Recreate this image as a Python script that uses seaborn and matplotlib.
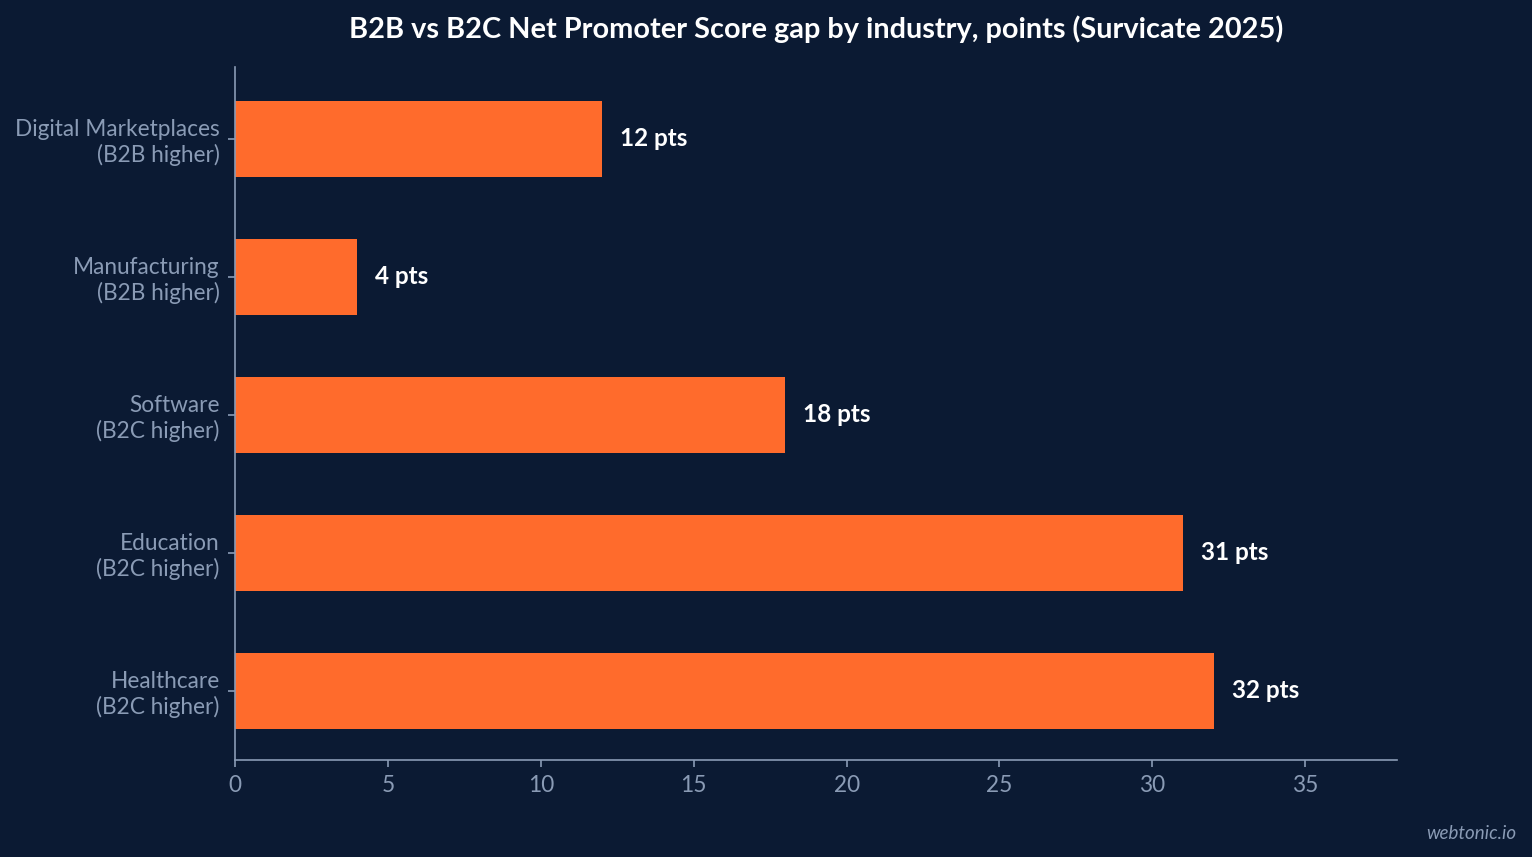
import pandas as pd
import matplotlib.pyplot as plt
import seaborn as sns

# Dados do gráfico
industrias = [
    "Digital Marketplaces\n(B2B higher)",
    "Manufacturing\n(B2B higher)",
    "Software\n(B2C higher)",
    "Education\n(B2C higher)",
    "Healthcare\n(B2C higher)",
]
gap_pts = [12, 4, 18, 31, 32]
rotulos = ["12 pts", "4 pts", "18 pts", "31 pts", "32 pts"]

df = pd.DataFrame({"Indústria": industrias, "Gap": gap_pts})

fundo = "#0b1a33"
laranja = "#ff6b2c"
cinza = "#8a9bb5"

sns.set_theme(style="white")
plt.rcParams["font.family"] = ["Lato", "DejaVu Sans"]

fig = plt.figure(figsize=(15.32, 8.57), dpi=100, facecolor=fundo)
ax = fig.add_axes([0.1534, 0.1132, 0.7585, 0.8086])
ax.set_facecolor(fundo)

sns.barplot(data=df, x="Gap", y="Indústria", color=laranja, width=0.55,
            saturation=1, linewidth=0, ax=ax)

for barra, txt in zip(ax.patches, rotulos):
    ax.annotate(txt, (barra.get_width(), barra.get_y() + barra.get_height() / 2),
                xytext=(13, 0), textcoords="offset points", va="center", ha="left",
                color="white", fontsize=17.5, fontweight="bold")

ax.set_xlim(0, 38)
ax.set_ylim(4.5, -0.52)
ax.set_xticks([0, 5, 10, 15, 20, 25, 30, 35])
ax.set_xlabel("")
ax.set_ylabel("")

for lado in ["top", "right"]:
    ax.spines[lado].set_visible(False)
for lado in ["left", "bottom"]:
    ax.spines[lado].set_color(cinza)
    ax.spines[lado].set_linewidth(1.2)

ax.tick_params(axis="both", colors=cinza, labelsize=16.3, length=5, width=1.2,
               bottom=True, left=True)
ax.tick_params(axis="y", pad=6)
ax.tick_params(axis="x", pad=6)
for rot in ax.get_yticklabels():
    rot.set_linespacing(1.22)

fig.suptitle("B2B vs B2C Net Promoter Score gap by industry, points (Survicate 2025)",
             x=0.533, y=0.982, color="white", fontsize=20.8, fontweight="bold")
fig.text(0.99, 0.028, "webtonic.io", ha="right", va="center", color=cinza,
         fontsize=13.5, style="italic")

plt.savefig("out.png", dpi=100, facecolor=fundo)
